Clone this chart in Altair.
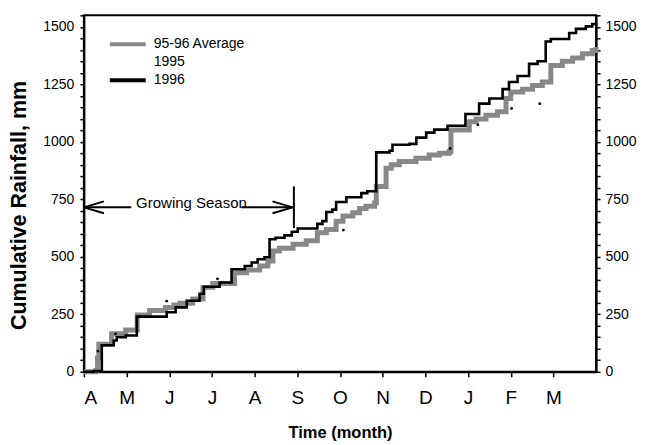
import altair as alt
import pandas as pd

MONTH_LABELS = ["A", "M", "J", "J", "A", "S", "O", "N", "D", "J", "F", "M"]
SERIES = ["95-96 Average", "1995", "1996"]

# 95-96 average (months since 1 April, cumulative mm)
avg_x = [0.00, 0.28, 0.32, 0.35, 0.65, 0.98, 1.25, 1.54, 1.91, 2.11, 2.25, 2.55, 2.79, 3.02,
         3.53, 3.81, 4.12, 4.31, 4.43, 4.58, 4.90, 5.21, 5.47, 5.68, 5.91, 6.07, 6.30, 6.46,
         6.61, 6.81, 6.85, 7.08, 7.20, 7.39, 7.78, 8.09, 8.33, 8.56, 8.60, 9.03, 9.19, 9.42,
         9.69, 9.89, 10.00, 10.28, 10.51, 10.74, 10.94, 11.21, 11.45, 11.68, 11.91, 12.00]
avg_y = [0, 5, 60, 120, 165, 182, 247, 266, 280, 290, 298, 316, 367, 384,
         431, 442, 460, 482, 525, 537, 554, 570, 605, 619, 655, 677, 691, 710,
         720, 734, 806, 885, 900, 914, 929, 943, 950, 958, 1051, 1087, 1099, 1116,
         1131, 1188, 1217, 1229, 1245, 1260, 1332, 1350, 1364, 1383, 1397, 1412]

# 1996
y96_x = [0.00, 0.23, 0.42, 0.70, 0.77, 0.98, 1.24, 1.94, 2.15, 2.41, 2.71, 2.81, 3.18, 3.46,
         3.77, 3.93, 4.07, 4.23, 4.35, 4.49, 4.70, 4.87, 5.01, 5.47, 5.59, 5.68, 5.82, 5.91,
         6.15, 6.50, 6.64, 6.85, 7.16, 7.23, 7.63, 7.79, 8.02, 8.21, 8.52, 8.94, 9.26, 9.50,
         9.81, 9.96, 10.16, 10.43, 10.63, 10.82, 10.94, 11.37, 11.53, 11.76, 11.91, 12.00]
y96_y = [0, 3, 115, 136, 150, 158, 240, 259, 280, 309, 339, 370, 388, 446,
         460, 475, 489, 498, 576, 583, 593, 609, 623, 643, 655, 695, 705, 738,
         759, 777, 785, 954, 961, 987, 991, 1018, 1040, 1053, 1070, 1121, 1166, 1188,
         1229, 1260, 1286, 1339, 1350, 1436, 1447, 1473, 1491, 1502, 1512, 1515]

# 1995 (sparse dots)
y95_x = [0.33, 0.74, 1.94, 3.13, 6.08, 8.58, 9.23, 10.02, 10.68]
y95_y = [90, 165, 307, 404, 616, 971, 1074, 1145, 1166]

# growing season annotation (months, mm)
seg_x = [0.00, 0.00, 0.00, 3.69, 4.89, 4.89, 4.92]
seg_y = [715, 715, 715, 715, 715, 715, 806]
seg_x2 = [1.11, 0.47, 0.47, 4.89, 4.42, 4.42, 4.92]
seg_y2 = [715, 741, 689, 715, 741, 689, 625]
ann_text = ["Growing Season"]
ann_x = [2.52]
ann_y = [734]

FONT = "Liberation Sans"

avg_df = pd.DataFrame({"month": avg_x, "mm": avg_y, "series": SERIES[0]})
y96_df = pd.DataFrame({"month": y96_x, "mm": y96_y, "series": SERIES[2]})
dots_df = pd.DataFrame({"month": y95_x, "mm": y95_y, "series": SERIES[1]})
seg_df = pd.DataFrame({"month": seg_x, "mm": seg_y, "x2": seg_x2, "y2": seg_y2})
txt_df = pd.DataFrame({"month": ann_x, "mm": ann_y, "t": ann_text})

xscale = alt.Scale(domain=[0, 12], nice=False, zero=False)
yscale = alt.Scale(domain=[0, 1550], nice=False)
yticks = list(range(0, 1551, 50))
label_expr = "datum.value % 250 === 0 ? format(datum.value, 'd') : ''"

month_expr = "[" + ",".join("'%s'" % m for m in MONTH_LABELS) + "][datum.value]"

x_axis = alt.Axis(title="Time (month)", values=list(range(12)), labelExpr=month_expr,
                  grid=False, tickSize=5, labelPadding=21, labelFontSize=19,
                  labelBaseline="middle",
                  titleFontSize=16.5, titleFontWeight="bold", titlePadding=17)

leg = alt.Legend(title=None, orient="none", legendX=24, legendY=20, symbolType="stroke",
                 symbolSize=1296, clipHeight=18, labelFontSize=14, labelFont=FONT,
                 symbolStrokeWidth=4, labelOffset=6, padding=0, rowPadding=0)

color = alt.Color("series:N", scale=alt.Scale(domain=SERIES,
                                              range=["#888888", "rgba(0,0,0,0)", "#000000"]),
                  legend=leg)

X = alt.X("month:Q", scale=xscale, axis=x_axis)
Y_left = alt.Y("mm:Q", scale=yscale, axis=alt.Axis(title="Cumulative Rainfall, mm", values=yticks,
                                                  labelExpr=label_expr, grid=False, tickSize=4,
                                                  labelPadding=6, labelFontSize=14,
                                                  titleFontSize=21.5, titleY=190,
                                                  titleFontWeight="bold", titlePadding=12))

avg_line = alt.Chart(avg_df).mark_line(interpolate="step-after", strokeWidth=5).encode(
    x=X, y=Y_left, color=color
)

y96_line = alt.Chart(y96_df).mark_line(interpolate="step-after", strokeWidth=2.6).encode(
    x=X, y=alt.Y("mm:Q", scale=yscale, axis=None), color=color
)

dots = alt.Chart(dots_df).mark_circle(color="black", size=8, opacity=1).encode(
    x=X,
    y=alt.Y("mm:Q", scale=yscale, axis=alt.Axis(orient="right", title=None, values=yticks,
                                               labelExpr=label_expr, grid=False, tickSize=4,
                                               labelPadding=5, labelFontSize=14)),
)

segs = alt.Chart(seg_df).mark_rule(color="black", strokeWidth=2).encode(
    x=X,
    y=alt.Y("mm:Q", scale=yscale, axis=None),
    x2="x2:Q", y2="y2:Q"
)

txt = alt.Chart(txt_df).mark_text(font=FONT, fontSize=15, color="black", baseline="middle",
                                  align="center").encode(
    x=X,
    y=alt.Y("mm:Q", scale=yscale, axis=None),
    text="t:N"
)

chart = alt.layer(avg_line, y96_line, dots, segs, txt).resolve_scale(y="shared").resolve_axis(
    y="independent"
).properties(
    width=513, height=357, background="white",
    padding={"left": 0, "top": 6, "right": 5, "bottom": 0}
).configure_view(stroke="black", strokeWidth=2).configure_axis(
    domainColor="black", domainWidth=2, tickColor="black", tickWidth=1.5,
    labelColor="black", titleColor="black", labelFont=FONT, titleFont=FONT
)

chart.save("out.html", embed_options={"renderer": "svg", "actions": False})
